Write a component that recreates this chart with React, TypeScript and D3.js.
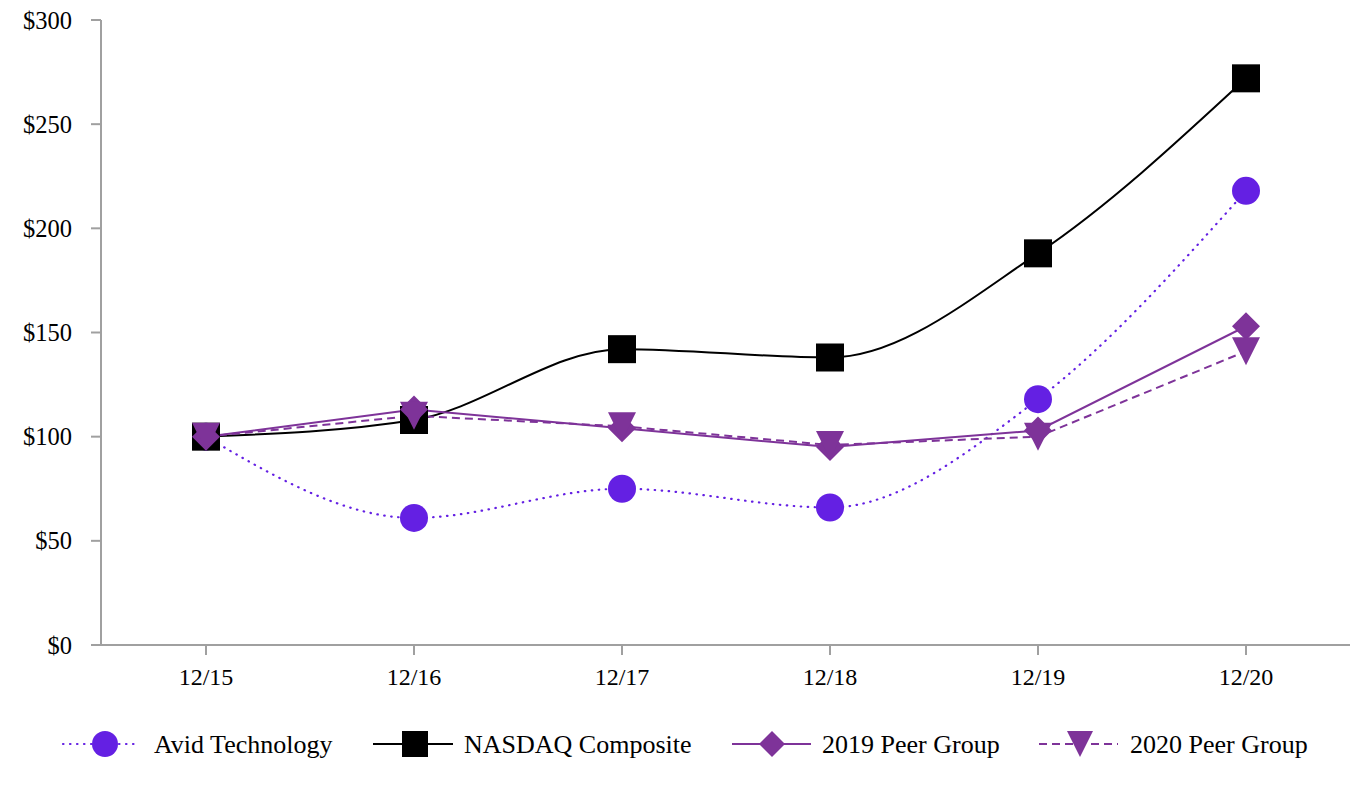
import React from 'react';
import * as d3 from 'd3';

const categories = ['12/15', '12/16', '12/17', '12/18', '12/19', '12/20'];
const avid = [100, 61, 75, 66, 118, 218];
const nasdaq = [100, 108, 142, 138, 188, 272];
const peer2019 = [100, 113, 104, 95, 103, 153];
const peer2020 = [100, 110, 105, 96, 100, 141];
const yTicks = [0, 50, 100, 150, 200, 250, 300];

const W = 1370;
const H = 786;
const FONT = "'Liberation Serif', 'DejaVu Serif', 'Times New Roman', serif";
const AXIS = '#a0a0a0';
const AVID_C = '#6420e3';
const PEER_C = '#7e3399';

type Marker = 'circle' | 'square' | 'diamond' | 'triangle';

interface Series {
  name: string;
  values: number[];
  color: string;
  dash: string | null;
  marker: Marker;
  smooth: boolean;
  width: number;
}

const series: Series[] = [
  { name: 'Avid Technology', values: avid, color: AVID_C, dash: '0.5,6.5', marker: 'circle', smooth: true, width: 2.2 },
  { name: 'NASDAQ Composite', values: nasdaq, color: '#000000', dash: null, marker: 'square', smooth: true, width: 2 },
  { name: '2019 Peer Group', values: peer2019, color: PEER_C, dash: null, marker: 'diamond', smooth: false, width: 2 },
  { name: '2020 Peer Group', values: peer2020, color: PEER_C, dash: '8,5', marker: 'triangle', smooth: false, width: 2 },
];

function markerEl(m: Marker, cx: number, cy: number, size: number, color: string, key?: string) {
  const h = size / 2;
  if (m === 'circle') return <circle key={key} cx={cx} cy={cy} r={h} fill={color} />;
  if (m === 'square') return <rect key={key} x={cx - h} y={cy - h} width={size} height={size} fill={color} />;
  if (m === 'diamond')
    return <polygon key={key} points={`${cx},${cy - h} ${cx + h},${cy} ${cx},${cy + h} ${cx - h},${cy}`} fill={color} />;
  return <polygon key={key} points={`${cx - h},${cy - h} ${cx + h},${cy - h} ${cx},${cy + h}`} fill={color} />;
}

const App: React.FC = () => {
  const x = d3.scaleBand<string>().domain(categories).range([102, 1350]);
  const cx = (c: string) => (x(c) || 0) + x.bandwidth() / 2;
  const y = d3.scaleLinear().domain([0, 300]).range([645, 20]);

  const smoothLine = d3
    .line<number>()
    .x((_, i) => cx(categories[i]))
    .y((d) => y(d))
    .curve(d3.curveMonotoneX);
  const straightLine = d3
    .line<number>()
    .x((_, i) => cx(categories[i]))
    .y((d) => y(d));

  const legendItems = [
    { s: series[0], x0: 63, x1: 138, mx: 105, tx: 154 },
    { s: series[1], x0: 373, x1: 453, mx: 415, tx: 464 },
    { s: series[2], x0: 732, x1: 811, mx: 772, tx: 822 },
    { s: series[3], x0: 1039, x1: 1118, mx: 1080, tx: 1130 },
  ];
  const legendY = 744;

  return (
    <svg
      width={W}
      height={H}
      viewBox={`0 0 ${W} ${H}`}
      style={{ position: 'absolute', left: 0, top: 0, background: '#fff', fontFamily: FONT }}
    >
      {/* y axis */}
      <line x1={101} x2={101} y1={y(300)} y2={y(0)} stroke={AXIS} strokeWidth={2} />
      {yTicks.map((t) => (
        <g key={t}>
          <line x1={91} x2={101} y1={y(t)} y2={y(t)} stroke={AXIS} strokeWidth={2} />
          <text x={72} y={y(t)} dy="0.35em" textAnchor="end" fontSize={24.5} fill="#000">
            ${t}
          </text>
        </g>
      ))}
      {/* x axis */}
      <line x1={91} x2={1350} y1={y(0)} y2={y(0)} stroke={AXIS} strokeWidth={2} />
      {categories.map((c) => (
        <g key={c}>
          <line x1={cx(c)} x2={cx(c)} y1={y(0)} y2={y(0) + 10} stroke={AXIS} strokeWidth={2} />
          <text x={cx(c)} y={677} dy="0.35em" textAnchor="middle" fontSize={24} fill="#000">
            {c}
          </text>
        </g>
      ))}

      {/* lines */}
      {series.map((s) => (
        <path
          key={s.name}
          d={(s.smooth ? smoothLine : straightLine)(s.values) || ''}
          fill="none"
          stroke={s.color}
          strokeWidth={s.width}
          strokeDasharray={s.dash || undefined}
          strokeLinecap={s.marker === 'circle' ? 'round' : 'butt'}
        />
      ))}
      {/* markers */}
      {series.map((s) => (
        <g key={s.name + '-m'}>
          {s.values.map((v, i) => markerEl(s.marker, cx(categories[i]), y(v), 28, s.color, `${s.name}${i}`))}
        </g>
      ))}

      {/* legend */}
      {legendItems.map(({ s, x0, x1, mx, tx }) => (
        <g key={s.name + '-l'}>
          <line
            x1={x0}
            x2={x1}
            y1={legendY}
            y2={legendY}
            stroke={s.color}
            strokeWidth={s.width}
            strokeDasharray={s.dash || undefined}
            strokeLinecap={s.marker === 'circle' ? 'round' : 'butt'}
          />
          {markerEl(s.marker, mx, legendY, 26, s.color)}
          <text x={tx} y={legendY} dy="0.35em" fontSize={26} fill="#000">
            {s.name}
          </text>
        </g>
      ))}
    </svg>
  );
};

export default App;
